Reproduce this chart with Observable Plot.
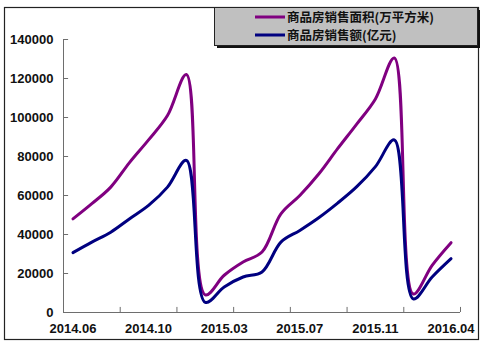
<!DOCTYPE html>
<html><head><meta charset="utf-8">
<script src="https://cdn.jsdelivr.net/npm/d3@7"></script>
<script src="https://cdn.jsdelivr.net/npm/@observablehq/plot@0.6"></script>
<style>
body{margin:0;background:#fff}
#chart{position:relative;width:483px;height:352px}
</style>
</head><body><div id="chart"></div>
<script>
// ---- data ----
const months = ["2014.06","2014.07","2014.08","2014.09","2014.10","2014.11","2014.12",
  "2015.02","2015.03","2015.04","2015.05","2015.06","2015.07","2015.08","2015.09","2015.10","2015.11","2015.12",
  "2016.02","2016.03","2016.04"];
const area   = [48000,55800,64300,77000,88500,101000,122000, 9000,19100,25900,31000,50600,60000,71000,84000,96500,109500,130500, 9500,24200,35800];
const amount = [30700,36100,41200,48100,54900,64300,78000, 5200,13100,18200,20800,36100,42100,48600,56100,64400,74800,88500, 7000,18200,27600];
const seriesNames = ["商品房销售面积(万平方米)","商品房销售额(亿元)"];
const seriesColors = ["#800080","#000080"];
const yTicks = [0,20000,40000,60000,80000,100000,120000,140000];
const xTickLabels = ["2014.06","2014.10","2015.03","2015.07","2015.11","2016.04"];

const rows = [];
months.forEach((m,i)=>{ rows.push({i, m, s:seriesNames[0], v:area[i]}); });
months.forEach((m,i)=>{ rows.push({i, m, s:seriesNames[1], v:amount[i]}); });
const labelRows = xTickLabels.map(l=>({i: months.indexOf(l), l}));
const n = months.length;
const xTickPos = d3.range(-0.5, n, 3);

const W=483, H=352;
const axisColor = "#6e6e6e";
const font = "'Liberation Sans', Arial, sans-serif";

const plot = Plot.plot({
  width: W, height: H,
  marginLeft: 63, marginRight: 23, marginTop: 39, marginBottom: 40,
  x: {type:"linear", domain:[-0.5, n-0.5], axis:null},
  y: {domain:[0,140000], axis:null},
  color: {domain: seriesNames, range: seriesColors},
  style: {background:"#fff", overflow:"visible", fontFamily: font},
  marks: [
    Plot.ruleX([-0.5], {x:d=>d, y1:0, y2:140000, stroke:axisColor, strokeWidth:1}),
    Plot.ruleY([0], {y:d=>d, x1:-0.5, x2:n-0.5, stroke:axisColor, strokeWidth:1}),
    Plot.ruleX(xTickPos, {x:d=>d, y1:0, y2:2600, stroke:axisColor}),
    Plot.ruleY(yTicks, {y:d=>d, x1:-0.5, x2:-0.5+0.27, stroke:axisColor}),
    Plot.text(yTicks, {x:d=>-0.5, y:d=>d, text:d=>String(d), textAnchor:"end", dx:-10,
      fontSize:13, fontWeight:"bold", fill:"#111"}),
    Plot.text(labelRows, {x:"i", y:d=>0, text:"l", dy:16, fontSize:13, fontWeight:"bold", fill:"#111"}),
    Plot.line(rows, {x:"i", y:"v", z:"s", stroke:"s", strokeWidth:3, curve:"catmull-rom"})
  ]
});
document.getElementById("chart").appendChild(plot);

// frame and legend
const svg = d3.select(plot);
svg.append("rect").attr("x",4.5).attr("y",7.5).attr("width",474).attr("height",332)
  .attr("fill","none").attr("stroke","#222").attr("stroke-width",1.2);
const lg = svg.append("g");
lg.append("rect").attr("x",217).attr("y",10).attr("width",263).attr("height",38).attr("fill","#111");
lg.append("rect").attr("x",214.5).attr("y",7.5).attr("width",263).attr("height",38)
  .attr("fill","#c0c0c0").attr("stroke","#222").attr("stroke-width",1);
seriesNames.forEach((name,k)=>{
  const y = 17 + k*18;
  lg.append("line").attr("x1",255).attr("x2",285).attr("y1",y).attr("y2",y)
    .attr("stroke",seriesColors[k]).attr("stroke-width",3);
  lg.append("text").attr("x",287).attr("y",y).attr("dy","0.36em")
    .attr("text-anchor","start")
    .attr("font-family","'Noto Sans CJK SC', sans-serif").attr("font-size",12.5)
    .attr("font-weight","bold").attr("fill","#111").text(name);
});
</script>
</body></html>
